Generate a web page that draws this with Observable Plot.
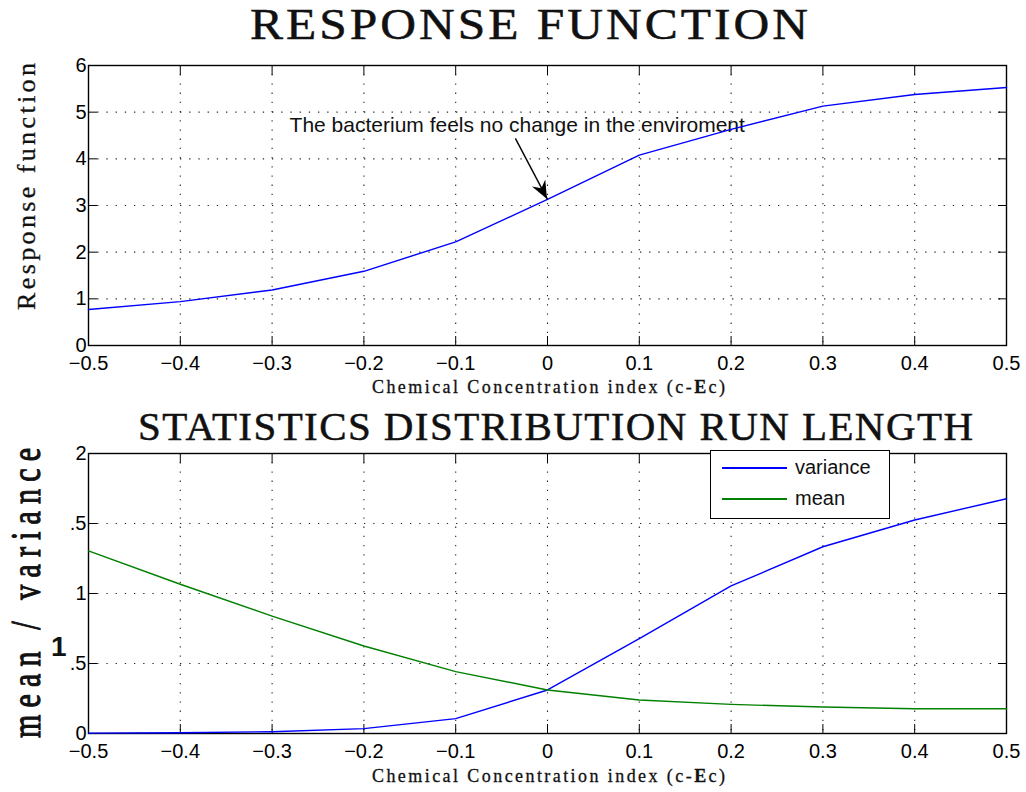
<!DOCTYPE html>
<html>
<head>
<meta charset="utf-8">
<script src="https://cdn.jsdelivr.net/npm/d3@7"></script>
<script src="https://cdn.jsdelivr.net/npm/@observablehq/plot@0.6"></script>
<style>
  html, body { margin: 0; padding: 0; background: #fff; }
  #fig { position: relative; width: 1026px; height: 792px; overflow: hidden; background: #fff; }
  .panel { position: absolute; left: 0; }
  .lbl { position: absolute; white-space: nowrap; line-height: 1; color: #111; }
  .legend { position: absolute; border: 1.3px solid #000; background: #fff; box-sizing: border-box; }
  .legend .swatch { position: absolute; height: 1.6px; }
  .legend .name { position: absolute; font-family: "Liberation Sans", Arial, sans-serif; font-size: 20px; line-height: 1; color: #111; }
</style>
</head>
<body>
<div id="fig"></div>
<script>
// Chemical concentration index (c - Ec) at which the model was evaluated
const concentration = [-0.5, -0.4, -0.3, -0.2, -0.1, 0, 0.1, 0.2, 0.3, 0.4, 0.5];
// Response function of the bacterium
const response = [0.77, 0.94, 1.19, 1.59, 2.22, 3.13, 4.08, 4.63, 5.13, 5.38, 5.53];
// Run-length distribution statistics
const variance = [0.003, 0.005, 0.013, 0.035, 0.106, 0.311, 0.677, 1.054, 1.334, 1.525, 1.677];
const mean = [1.304, 1.066, 0.839, 0.625, 0.442, 0.311, 0.239, 0.208, 0.189, 0.177, 0.177];

const seriesNames = ["variance", "mean"];
const seriesColors = ["#0000ff", "#008000"];

// Ticks and their labels
const xTicks = [-0.5, -0.4, -0.3, -0.2, -0.1, 0, 0.1, 0.2, 0.3, 0.4, 0.5];
const xTickLabels = ["\u22120.5", "\u22120.4", "\u22120.3", "\u22120.2", "\u22120.1", "0", "0.1", "0.2", "0.3", "0.4", "0.5"];
const topYTicks = [0, 1, 2, 3, 4, 5, 6];
const topYTickLabels = ["0", "1", "2", "3", "4", "5", "6"];
const bottomYTicks = [0, 0.5, 1, 1.5, 2];
const bottomYTickLabels = ["0", ".5", "1", ".5", "2"];

// Texts
const titleTop = "RESPONSE FUNCTION";
const titleBottom = "STATISTICS DISTRIBUTION RUN LENGTH";
const yLabelTop = "Response function";
const yLabelBottom = "mean / variance";
const xLabelHtml = "Chemical Concentration index (c-<b>E</b>c)";
const strayLabel = "1";

// Annotation pointing at the zero-gradient point of the response curve
const annotation = { text: "The bacterium feels no change in the enviroment", x: -0.033, y: 4.72, tailX: -0.035, tailY: 4.44 };

const responseRows = concentration.map((c, i) => ({ c, v: response[i] }));
const statRows = seriesNames.flatMap((s, k) =>
  concentration.map((c, i) => ({ c, v: (k === 0 ? variance : mean)[i], series: s })));

const fig = document.getElementById("fig");
const SVGNS = "http://www.w3.org/2000/svg";

const gridStyle = { stroke: "#000", strokeOpacity: 0.85, strokeWidth: 1.1, strokeDasharray: "1.3,7.9" };
const axisFont = { fontSize: 20, fontFamily: "Liberation Sans, Arial, sans-serif" };

function frameAndAxes(yTicks, yTickLabels) {
  const yFmt = d => yTickLabels[yTicks.indexOf(d)];
  const xFmt = d => xTickLabels[xTicks.indexOf(d)];
  return {
    grid: [
      Plot.gridX(xTicks.slice(1, -1), gridStyle),
      Plot.gridY(yTicks.slice(1, -1), gridStyle)
    ],
    axes: [
      Plot.axisX(xTicks, { anchor: "bottom", tickSize: -9, tickPadding: 19, tickFormat: xFmt, label: null, ...axisFont }),
      Plot.axisX(xTicks, { anchor: "top", tickSize: -9, fill: "none", label: null }),
      Plot.axisY(yTicks, { anchor: "left", tickSize: -9, tickPadding: 11, tickFormat: yFmt, label: null, ...axisFont }),
      Plot.axisY(yTicks, { anchor: "right", tickSize: -9, fill: "none", label: null })
    ]
  };
}

// Filled dart-shaped arrow head, placed through the plot's scales
function arrowHead(tail, tip) {
  return (index, scales) => {
    const x0 = scales.x(tail.x), y0 = scales.y(tail.y);
    const x1 = scales.x(tip.x), y1 = scales.y(tip.y);
    const a = Math.atan2(y1 - y0, x1 - x0);
    const len = 18, half = 7.5, notch = 12;
    const cos = Math.cos(a), sin = Math.sin(a);
    const bx = x1 - len * cos, by = y1 - len * sin;
    const nx = x1 - notch * cos, ny = y1 - notch * sin;
    const px = -sin * half, py = cos * half;
    const path = document.createElementNS(SVGNS, "path");
    path.setAttribute("d", `M${x1},${y1}L${bx + px},${by + py}L${nx},${ny}L${bx - px},${by - py}Z`);
    path.setAttribute("fill", "#000");
    return path;
  };
}

const common = {
  width: 1026,
  height: 396,
  marginLeft: 88,
  marginRight: 20,
  style: { fontFamily: "Liberation Sans, Arial, sans-serif", fontSize: "20px", color: "#000", background: "transparent", overflow: "visible" },
  x: { domain: [-0.5, 0.5], axis: null }
};

// Upper panel: response function
const topParts = frameAndAxes(topYTicks, topYTickLabels);
const tip = { x: concentration[5], y: response[5] };
const tail = { x: annotation.tailX, y: annotation.tailY };
const topPlot = Plot.plot({
  ...common,
  marginTop: 65,
  marginBottom: 51,
  y: { domain: [0, 6], axis: null },
  marks: [
    Plot.text([annotation], { x: "x", y: "y", text: "text", fontSize: 21, fontFamily: "Liberation Sans, Arial, sans-serif", fill: "#111" }),
    ...topParts.grid,
    Plot.frame({ stroke: "#000", strokeWidth: 1.4 }),
    ...topParts.axes,
    Plot.line(responseRows, { x: "c", y: "v", stroke: seriesColors[0], strokeWidth: 1.4 }),
    Plot.link([{ x1: tail.x, y1: tail.y, x2: tip.x, y2: tip.y }], { x1: "x1", y1: "y1", x2: "x2", y2: "y2", stroke: "#000", strokeWidth: 1.4 }),
    arrowHead(tail, tip)
  ]
});
topPlot.classList.add("panel");
topPlot.style.top = "0px";
fig.appendChild(topPlot);

// Lower panel: run-length statistics
const botParts = frameAndAxes(bottomYTicks, bottomYTickLabels);
const bottomPlot = Plot.plot({
  ...common,
  marginTop: 57,
  marginBottom: 59,
  y: { domain: [0, 2], axis: null },
  color: { domain: seriesNames, range: seriesColors },
  marks: [
    ...botParts.grid,
    Plot.frame({ stroke: "#000", strokeWidth: 1.4 }),
    ...botParts.axes,
    Plot.line(statRows, { x: "c", y: "v", z: "series", stroke: "series", strokeWidth: 1.4 })
  ]
});
bottomPlot.classList.add("panel");
bottomPlot.style.top = "396px";
fig.appendChild(bottomPlot);

// Text labels around the panels
const SERIF = '"Liberation Serif", "Times New Roman", serif';
const SANS = '"Liberation Sans", Arial, sans-serif';
// font ascent / content height (em) used to find the baseline inside a line box
const METRICS = { serif: { ascent: 0.891, content: 1.107 }, sans: { ascent: 0.905, content: 1.117 } };

// Horizontal label: glyphs from x `start` to `end`, baseline at y `base`.
// Rotated label: reads upward from y `start` to y `end`, baseline at x `base`.
function label({ html, start, end, base, size, family = SERIF, metrics = METRICS.serif, weight = "normal",
                 rotate = false, stretch = 1, scaleX = 1, stroke = 0, lineHeight = 1 }) {
  const el = document.createElement("div");
  el.className = "lbl";
  el.innerHTML = html;
  el.style.fontFamily = family;
  el.style.fontSize = size + "px";
  el.style.fontWeight = weight;
  el.style.lineHeight = String(lineHeight);
  if (stroke) el.style.webkitTextStroke = stroke + "px #111";
  fig.appendChild(el);
  const n = el.textContent.length;
  const w0 = el.getBoundingClientRect().width * scaleX;
  if (end != null && n > 1) {
    const span = Math.abs(end - start);
    el.style.letterSpacing = ((span - w0) / (n - 1)) / scaleX + "px";
  }
  const asc = (lineHeight - metrics.content) / 2 + metrics.ascent;
  el.style.transformOrigin = "0 0";
  if (!rotate) {
    el.style.transform = `scale(${scaleX}, ${stretch})`;
    el.style.left = start + "px";
    el.style.top = (base - asc * size * stretch) + "px";
  } else {
    el.style.transform = `rotate(-90deg) scale(${scaleX}, ${stretch})`;
    el.style.left = (base - asc * size * stretch) + "px";
    el.style.top = start + "px";
  }
  return el;
}

label({ html: titleTop, start: 250, end: 808, base: 39, size: 45, scaleX: 1.1, stroke: 0.5, lineHeight: 0.8 });
label({ html: titleBottom, start: 138, end: 973, base: 440, size: 41, stroke: 0.5, lineHeight: 0.8 });
label({ html: xLabelHtml, start: 372, end: 725, base: 393, size: 18, stroke: 0.3 });
label({ html: xLabelHtml, start: 372, end: 725, base: 782, size: 18, stroke: 0.3 });
label({ html: yLabelTop, start: 310, end: 63, base: 36, size: 26, stroke: 0.3, rotate: true, lineHeight: 0.8 });
label({ html: yLabelBottom, start: 738, end: 448, base: 39, size: 30, stroke: 0.8, stretch: 1.43, rotate: true, lineHeight: 0.7 });
label({ html: strayLabel, start: 51, base: 657, size: 28, family: SANS, metrics: METRICS.sans, weight: "bold" });

// Legend box
const legend = document.createElement("div");
legend.className = "legend";
Object.assign(legend.style, { left: "710px", top: "450px", width: "180px", height: "69px" });
seriesNames.forEach((name, i) => {
  const cy = i === 0 ? 17 : 48;
  const sw = document.createElement("div");
  sw.className = "swatch";
  Object.assign(sw.style, { left: "11px", width: "65px", top: (cy - 1) + "px", background: seriesColors[i] });
  const tx = document.createElement("div");
  tx.className = "name";
  tx.textContent = name;
  Object.assign(tx.style, { left: "84px", top: (cy - 11) + "px" });
  legend.appendChild(sw);
  legend.appendChild(tx);
});
fig.appendChild(legend);
</script>
</body>
</html>
